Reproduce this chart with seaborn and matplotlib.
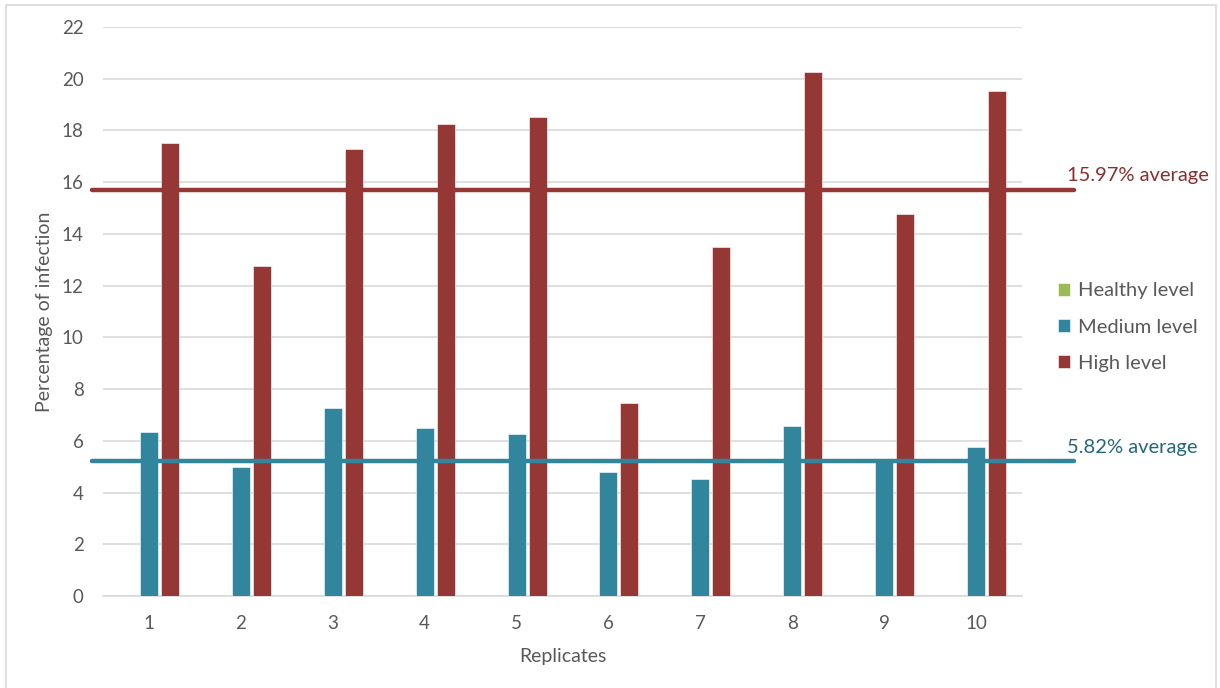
import matplotlib.pyplot as plt
import seaborn as sns
import pandas as pd
from matplotlib.patches import Rectangle

# values
replicates = ["1", "2", "3", "4", "5", "6", "7", "8", "9", "10"]
levels = ["Healthy level", "Medium level", "High level"]
healthy = [0, 0, 0, 0, 0, 0, 0, 0, 0, 0]
medium = [6.36, 4.99, 7.28, 6.50, 6.26, 4.81, 4.51, 6.58, 5.20, 5.76]
high = [17.51, 12.77, 17.28, 18.26, 18.51, 7.48, 13.50, 20.25, 14.78, 19.52]

# horizontal average lines as drawn, with their labels
avg_lines = [15.69, 5.21]
avg_labels = ["15.97% average", "5.82% average"]

colors = ["#9BBB59", "#31859C", "#953735"]
line_colors = ["#953735", "#31859C"]
label_colors = ["#86302E", "#24677A"]

df = pd.DataFrame({
    "Replicates": replicates * 3,
    "level": [levels[0]] * 10 + [levels[1]] * 10 + [levels[2]] * 10,
    "value": healthy + medium + high,
})

sns.set_theme(style="white")
plt.rcParams['font.family'] = ['Lato', 'DejaVu Sans']
text_color = "#595959"

fig = plt.figure(figsize=(12.2, 6.88), dpi=100)
ax = fig.add_axes([103 / 1220, 1 - 596 / 688, 919 / 1220, 569 / 688])

sns.barplot(data=df, x="Replicates", y="value", hue="level", hue_order=levels,
            palette=colors, width=0.685, gap=0.14, saturation=1,
            edgecolor="white", linewidth=0.4, ax=ax, zorder=3)

ax.set_xlim(-0.5, 9.5)
ax.set_ylim(0, 22)
ax.set_yticks(range(0, 23, 2))
ax.yaxis.grid(True, color="#D9D9D9", linewidth=1.2, zorder=0)
ax.set_axisbelow(True)
for s in ["top", "right", "left"]:
    ax.spines[s].set_visible(False)
ax.spines["bottom"].set_color("#D9D9D9")
ax.spines["bottom"].set_linewidth(1.2)
ax.tick_params(axis="both", length=0, labelsize=13.5, colors=text_color, pad=14)
ax.set_xlabel("Replicates", fontsize=14, color=text_color, labelpad=11)
ax.set_ylabel("Percentage of infection", fontsize=14, color=text_color, labelpad=6)

# average lines and their labels
label_y = [176, 447]
for val, lc, txt, tc, ty in zip(avg_lines, line_colors, avg_labels, label_colors, label_y):
    ax.plot([-0.62, 10.07], [val, val], color=lc, linewidth=3.2, clip_on=False, zorder=4)
    fig.text(1067 / 1220, 1 - ty / 688, txt, color=tc, fontsize=14.5, va="center", ha="left")

handles, labels = ax.get_legend_handles_labels()
ax.get_legend().remove()
fig.legend(handles, labels, loc="center left", bbox_to_anchor=(1040 / 1220, 1 - 327 / 688),
           frameon=False, fontsize=14.5, labelcolor=text_color, handlelength=0.6,
           handleheight=0.6, handletextpad=0.4, labelspacing=0.95)

# light frame around the chart area
fig.patches.append(Rectangle((6 / 1220, -0.01), 1210 / 1220, 1 - 5 / 688 + 0.01,
                             transform=fig.transFigure, fill=False,
                             edgecolor="#D9D9D9", linewidth=1.2))

fig.savefig("out.png", dpi=100)
